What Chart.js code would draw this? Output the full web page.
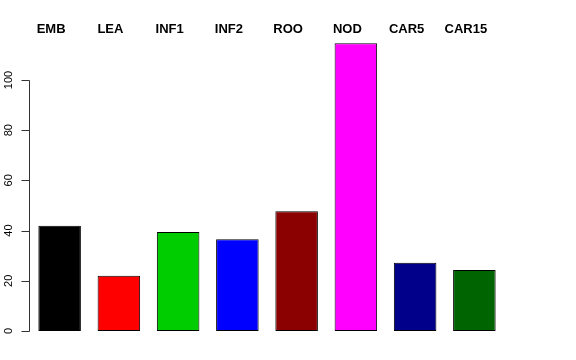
<!DOCTYPE html>
<html>
<head>
<meta charset="UTF-8">
<title>Barplot</title>
<script src="https://cdn.jsdelivr.net/npm/chart.js"></script>
<style>
  html, body { margin: 0; padding: 0; background: #fff; }
  #wrap { width: 576px; height: 360px; }
</style>
</head>
<body>
<div id="wrap"><canvas id="chart" width="576" height="360"></canvas></div>
<script>
// data
const categories = ["EMB", "LEA", "INF1", "INF2", "ROO", "NOD", "CAR5", "CAR15"];
const values = [41.9, 22.0, 39.4, 36.5, 47.7, 114.6, 27.2, 24.3];
const barColors = ["#000000", "#FF0000", "#00CD00", "#0000FF", "#8B0000", "#FF00FF", "#00008B", "#006400"];
const yTicks = [0, 20, 40, 60, 80, 100];

// R-style left axis and top labels, drawn from the chart's scales
const rAxes = {
  id: "rAxes",
  afterDraw(chart) {
    const ctx = chart.ctx;
    const y = chart.scales.y;
    const x = chart.scales.x;
    const axX = chart.chartArea.left - 0.5;
    ctx.save();
    ctx.strokeStyle = "#333";
    ctx.lineWidth = 1;
    ctx.beginPath();
    ctx.moveTo(axX, Math.round(y.getPixelForValue(yTicks[0])) + 0.5);
    ctx.lineTo(axX, Math.round(y.getPixelForValue(yTicks[yTicks.length - 1])) + 0.5);
    yTicks.forEach(t => {
      const py = Math.round(y.getPixelForValue(t)) + 0.5;
      ctx.moveTo(axX, py);
      ctx.lineTo(axX - 8, py);
    });
    ctx.stroke();

    ctx.fillStyle = "#000";
    ctx.font = "11px 'Liberation Sans', Arial, sans-serif";
    ctx.textAlign = "center";
    ctx.textBaseline = "middle";
    yTicks.forEach(t => {
      ctx.save();
      ctx.translate(8.5, y.getPixelForValue(t));
      ctx.rotate(-Math.PI / 2);
      ctx.fillText(String(t), 0, 0);
      ctx.restore();
    });

    ctx.font = "bold 13px 'Liberation Sans', Arial, sans-serif";
    categories.forEach((c, i) => {
      ctx.fillText(c, x.getPixelForValue(i) - 8.5, 29);
    });
    ctx.restore();
  }
};

new Chart(document.getElementById("chart"), {
  type: "bar",
  data: {
    labels: categories,
    datasets: [{
      data: values,
      backgroundColor: barColors,
      borderColor: "#000",
      borderWidth: 1,
      borderSkipped: false,
      categoryPercentage: 1,
      barPercentage: 0.718
    }]
  },
  options: {
    responsive: false,
    animation: false,
    devicePixelRatio: 1,
    layout: { padding: { left: 30, right: 72, top: 31, bottom: 29 } },
    plugins: { legend: { display: false }, tooltip: { enabled: false } },
    scales: {
      x: { display: false },
      y: { display: false, min: 0, max: 119.5 }
    }
  },
  plugins: [rAxes]
});
</script>
</body>
</html>
